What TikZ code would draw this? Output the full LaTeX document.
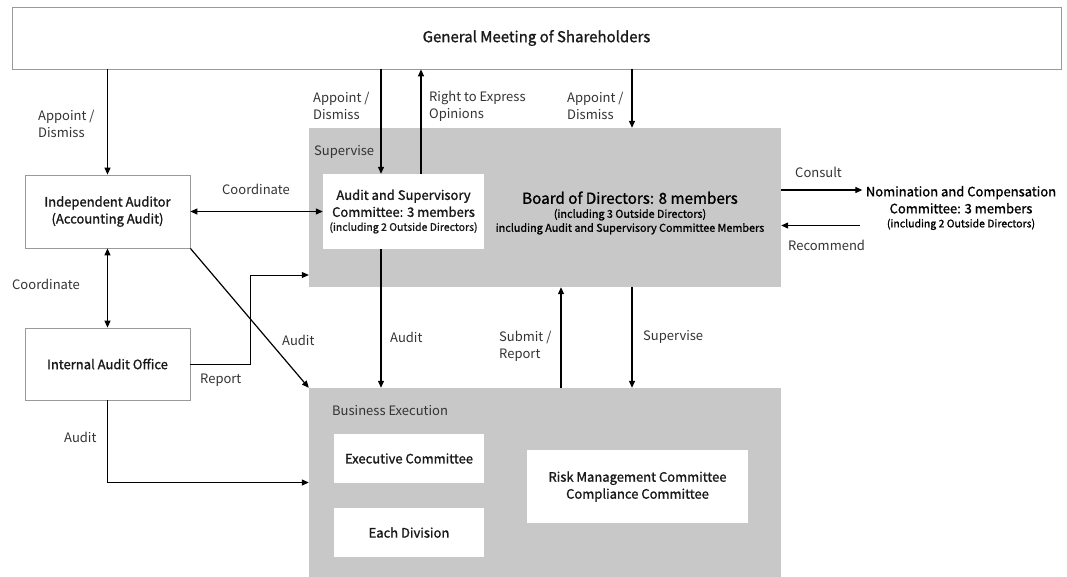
\documentclass[tikz,border=0pt]{standalone}
\usepackage{fontspec}
\setmainfont{Noto Sans CJK JP}
\newfontfamily\boxfont{Noto Sans CJK JP}[FakeBold=1.2]
\usetikzlibrary{arrows.meta}
\definecolor{panel}{HTML}{C8C8C8}
\definecolor{edge}{HTML}{9A9A9A}
\definecolor{ink}{HTML}{333333}
\tikzset{
	box/.style={draw=edge, fill=white, line width=0.8pt, align=center, font=\boxfont\fontsize{13}{17}\selectfont, text=black!90},
	inbox/.style={fill=white, align=center, font=\boxfont\fontsize{13}{17}\selectfont, text=black!90},
	lbl/.style={align=left, font=\fontsize{13}{17}\selectfont, text=ink, inner sep=0pt},
	arr/.style={-{Triangle[length=7pt,width=6pt]}, line width=1.2pt},
	dbl/.style={{Triangle[length=7pt,width=6pt]}-{Triangle[length=7pt,width=6pt]}, line width=1.2pt},
}
\begin{document}
\begin{tikzpicture}[x=1pt, y=-1pt]
	\useasboundingbox (0,0) rectangle (1067,576);
	% panels
	\node (BOD) at (545, 207.5)	[fill=panel, minimum width=472pt, minimum height=159pt]	{};
	\node (BE) at (545, 482.5)	[fill=panel, minimum width=472pt, minimum height=189pt]	{};
	% boxes
	\node (GMS) at (536.5, 38)	[box, minimum width=1049pt, minimum height=62pt, font=\boxfont\fontsize{15}{18}\selectfont]	{General Meeting of Shareholders};
	\node (IA) at (107.5, 211.5)	[box, minimum width=165pt, minimum height=73pt]	{Independent Auditor\\(Accounting Audit)};
	\node (IAO) at (107.5, 364)	[box, minimum width=165pt, minimum height=72pt]	{Internal Audit Office};
	\node (ASC) at (403.5, 211.5)	[inbox, minimum width=161pt, minimum height=75pt, inner sep=1pt]	{Audit and Supervisory\\Committee: 3 members\\[-3pt]{\fontsize{10.5}{13}\selectfont (including 2 Outside Directors)}};
	\node (EC) at (409, 458.5)	[inbox, minimum width=150pt, minimum height=49pt]	{Executive Committee};
	\node (ED) at (409, 532.5)	[inbox, minimum width=150pt, minimum height=49pt]	{Each Division};
	\node (RM) at (637.5, 486.5)	[inbox, minimum width=221pt, minimum height=73pt]	{Risk Management Committee\\Compliance Committee};
	\node (BODT) at (630, 213)	[align=center, font=\boxfont\fontsize{10.8}{14}\selectfont]	{{\fontsize{15.2}{19}\selectfont Board of Directors: 8 members}\\(including 3 Outside Directors)\\including Audit and Supervisory Committee Members};
	\node (NC) at (961, 208)	[align=center, font=\boxfont\fontsize{13}{17}\selectfont]	{Nomination and Compensation\\Committee: 3 members\\[-3pt]{\fontsize{10.5}{13}\selectfont (including 2 Outside Directors)}};
	% panel titles
	\node (SUP) at (314, 152)	[lbl, anchor=west]	{Supervise};
	\node (BET) at (332, 411)	[lbl, anchor=west]	{Business Execution};
	% connector ends
	\coordinate (CON) at ([yshift=17.5pt]BOD.east);
	\coordinate (REC) at ([xshift=-2pt,yshift=-17.5pt]NC.west);
	% connectors
	\draw[arr] (IA.north |- GMS.south) -- (IA.north);
	\draw[arr] ([xshift=-22.5pt]ASC.north |- GMS.south) -- ([xshift=-22.5pt]ASC.north);
	\draw[arr] ([xshift=17.5pt]ASC.north) -- ([xshift=17.5pt]ASC.north |- GMS.south);
	\draw[arr] ([xshift=87pt]BOD.north |- GMS.south) -- ([xshift=87pt]BOD.north);
	\draw[dbl] (IA.east) -- (ASC.west);
	\draw[dbl] (IA.south) -- (IAO.north);
	\draw[arr, line width=0.8pt] (IAO.east) -- ++(60,0) |- ([yshift=-67.5pt]BOD.west);
	\draw[arr] (IA.south east) -- (BE.north west);
	\draw[arr] (IAO.south) |- (BE.west);
	\draw[arr] ([xshift=-22.5pt]ASC.south) -- ([xshift=-22.5pt]ASC.south |- BE.north);
	\draw[arr] ([xshift=16pt]BE.north) -- ([xshift=16pt]BOD.south);
	\draw[arr] ([xshift=87pt]BOD.south) -- ([xshift=87pt]BE.north);
	\draw[arr] (CON) -- (NC.west |- CON);
	\draw[arr] (REC) -- (REC -| BOD.east);
	% connector labels
	\node (L1) at (38, 124)	[lbl, anchor=west]	{Appoint /\\Dismiss};
	\node (L2) at (313, 106)	[lbl, anchor=west]	{Appoint /\\Dismiss};
	\node (L3) at (429, 106)	[lbl, anchor=west]	{Right to Express\\Opinions};
	\node (L4) at (567, 106)	[lbl, anchor=west]	{Appoint /\\Dismiss};
	\node (L5) at (222, 189)	[lbl, anchor=west]	{Coordinate};
	\node (L6) at (12, 284)	[lbl, anchor=west]	{Coordinate};
	\node (L7) at (200, 380)	[lbl, anchor=west]	{Report};
	\node (L8) at (282, 340)	[lbl, anchor=west]	{Audit};
	\node (L9) at (64, 437)	[lbl, anchor=west]	{Audit};
	\node (L10) at (390, 337)	[lbl, anchor=west]	{Audit};
	\node (L11) at (499, 346)	[lbl, anchor=west]	{Submit /\\Report};
	\node (L12) at (643, 337)	[lbl, anchor=west]	{Supervise};
	\node (L13) at (795, 172)	[lbl, anchor=west]	{Consult};
	\node (L14) at (788, 245)	[lbl, anchor=west]	{Recommend};
\end{tikzpicture}
\end{document}
